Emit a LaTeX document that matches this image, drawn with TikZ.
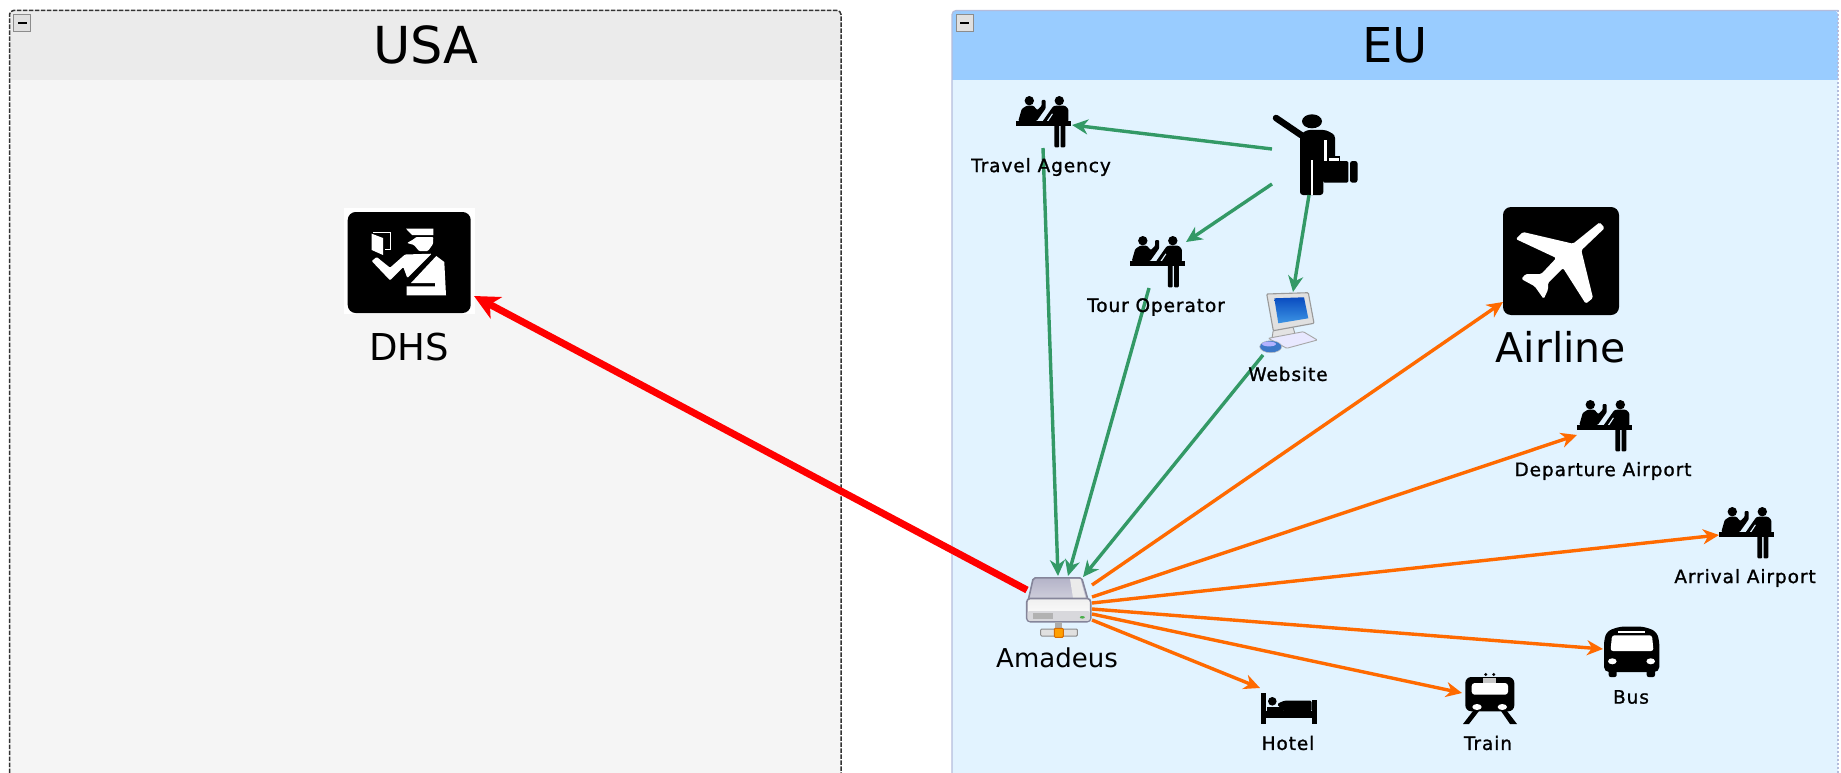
\documentclass[tikz,border=0pt]{standalone}
\usepackage{fontspec}
\setmainfont{DejaVu Sans}
\newfontfamily\smallfam[LetterSpace=5,FakeBold=1.2]{DejaVu Sans}
\usetikzlibrary{arrows.meta}
\definecolor{usahead}{HTML}{EBEBEB}
\definecolor{usabody}{HTML}{F5F5F5}
\definecolor{euhead}{HTML}{99CCFF}
\definecolor{eubody}{HTML}{E2F3FF}
\definecolor{euedge}{HTML}{B4BCDC}
\definecolor{gedge}{HTML}{339966}
\definecolor{oedge}{HTML}{FF6A00}
\definecolor{srvedge}{HTML}{85859A}
\definecolor{srvtopa}{HTML}{B4B3C8}
\definecolor{srvtopb}{HTML}{D8D8E2}
\definecolor{srvlow}{HTML}{D8D8DC}
\definecolor{scrtop}{HTML}{0A4CC0}
\definecolor{scrlow}{HTML}{3C94E4}
\definecolor{mouseblue}{HTML}{3C78C8}
\tikzset{
  iconbox/.style={inner sep=0pt,outer sep=0pt,rectangle},
  smalllabel/.style={inner sep=0pt,font=\smallfam\fontsize{18.5}{22}\selectfont,text=black},
  biglabel/.style={inner sep=0pt,text=black},
  greenarrow/.style={draw=gedge,line width=3.4pt,-{Stealth[length=16pt,width=15pt,inset=5pt]}},
  orangearrow/.style={draw=oedge,line width=3.4pt,-{Stealth[length=16pt,width=15pt,inset=5pt]}},
  redarrow/.style={draw=red,line width=7pt,-{Stealth[length=25pt,width=24pt,inset=7pt]}},
  deskicon/.pic={
    \fill[black] (0,25) rectangle (55.3,29.7);
    \fill[black] (13.3,4.7) circle[radius=4.7pt];
    \fill[black] (43.3,4.7) circle[radius=4.7pt];
    \fill[black,rounded corners=1pt] (2.3,25) -- (5.7,13) -- (10.7,9.7) -- (17.3,9.7) -- (21.3,14) -- (25.7,9.7) -- (25.7,4) -- (29.7,4) -- (29.7,12.3) -- (20.7,25) -- cycle;
    \fill[black,rounded corners=1pt] (26.5,25.5) -- (37,10.5) -- (39,9.7) -- (49,9.7) -- (52.3,13) -- (52.3,25.5) -- cycle;
    \fill[black,rounded corners=1pt] (38.3,29) rectangle (43.2,51.3);
    \fill[black,rounded corners=1pt] (44.5,29) rectangle (49.3,51.3);
    \fill[eubody] (31,24.8) -- (36,17.5) -- (36.8,18.2) -- (32.5,24.8) -- cycle;
  },
  travellericon/.pic={
    \fill[black] (40,6.3) ellipse[x radius=10pt,y radius=7pt];
    \draw[black,line width=6.5pt,line cap=round] (4,3) -- (29,20);
    \fill[black,rounded corners=3pt] (28,80) -- (28,20) -- (34.7,15) -- (54,15) -- (63,20) -- (63,47) -- (51.3,47) -- (51.3,80) -- cycle;
    \fill[white] (39,45) rectangle (40.8,80);
    \fill[white] (52,25) rectangle (54.5,46);
    \fill[black] (55.3,41) rectangle (68,46);
    \fill[white] (57,42.5) rectangle (66.5,46);
    \fill[black,rounded corners=1.5pt] (51,46) rectangle (76.3,67.7);
    \fill[black,rounded corners=2.5pt] (78,46) rectangle (85.5,67.7);
  },
  airlineicon/.pic={
    \fill[black,rounded corners=8pt] (0,0) rectangle (116,108);
    \fill[white,rounded corners=1.5pt] (96.7,15.3) -- (101.7,21) -- (78.3,43.3) -- (90,91) -- (82.7,96.7) -- (60,61) -- (45,76) -- (45,82.7) -- (40.7,92) -- (31.7,79.3) -- (18.3,72) -- (22.7,67) -- (38.3,67) -- (53.3,51) -- (12.7,32) -- (20,25) -- (70,36.7) -- cycle;
  },
  dhsicon/.pic={
    \fill[white] (0,0) rectangle (131,106);
    \fill[black,rounded corners=8pt] (3.7,4) rectangle (126.7,105);
    \fill[white] (62,20.7) -- (89.3,20.7) -- (89.3,27) -- (68,27) -- cycle;
    \fill[white,rounded corners=1pt] (72,29) -- (89.3,29) -- (89,36) -- (84,43) -- (75,43) -- (70,37) -- (63,35) -- (70,31) -- cycle;
    \fill[white] (27.7,25.7) -- (39,30) -- (39,47) -- (27.7,42) -- cycle;
    \draw[white,line width=1pt] (29,24.7) -- (46.7,24.7) -- (46.7,41) -- (41,41);
    \fill[white,rounded corners=1pt] (27.7,53) -- (32.7,49) -- (46,59.7) -- (61,46.5) -- (87.7,45.7) -- (63.3,70) -- (59.3,59) -- (46,72.3) -- cycle;
    \fill[white] (92.3,48) -- (100.3,54) -- (102,87.3) -- (62.7,87.3) -- (62.7,78.3) -- (91,78.3) -- (91,75) -- (67,75) -- cycle;
  },
  hotelicon/.pic={
    \fill[black] (0,0) rectangle (5,31);
    \fill[black] (50.7,6.7) rectangle (55.7,31);
    \fill[black] (0,18.3) rectangle (55.7,25);
    \fill[black] (11.3,8.3) circle[radius=4.3pt];
    \fill[black] (6,13.5) rectangle (22,18.3);
    \fill[black,rounded corners=1.5pt] (16,11) -- (23,7.7) -- (50.7,7.7) -- (50.7,18.3) -- (22,18.3) -- cycle;
  },
  trainicon/.pic={
    \fill[black,rounded corners=6pt] (2.3,4) rectangle (51.3,38.3);
    \fill[white,rounded corners=3pt] (8.7,10) rectangle (45,21.7);
    \fill[white] (14,34) ellipse[x radius=4.7pt,y radius=3pt];
    \fill[white] (39.3,34) ellipse[x radius=4.7pt,y radius=3pt];
    \fill[black!22] (20,5) rectangle (33.3,10);
    \fill[black] (22.7,1.5) circle[radius=1.6pt];
    \fill[black] (30.7,1.5) circle[radius=1.6pt];
    \fill[black] (10,38) -- (16,38) -- (6,51) -- (0,51) -- cycle;
    \fill[black] (38,38) -- (44,38) -- (54,51) -- (47,51) -- cycle;
  },
  busicon/.pic={
    \fill[black,rounded corners=5pt] (0,46) -- (0,14) -- (3,5) -- (16,0.5) -- (39,0.5) -- (52,5) -- (55.3,14) -- (55.3,46) -- cycle;
    \fill[black,rounded corners=2pt] (4.7,44) rectangle (12.7,51);
    \fill[black,rounded corners=2pt] (42.7,44) rectangle (51,51);
    \fill[white,rounded corners=2.5pt] (8,9.3) -- (48,9.3) -- (49.5,25) -- (6.5,25) -- cycle;
    \fill[white] (14.3,5) rectangle (41,7);
    \fill[white] (8.3,35.3) ellipse[x radius=4.3pt,y radius=3pt];
    \fill[white] (46.7,35.3) ellipse[x radius=4.3pt,y radius=3pt];
  },
  servericon/.pic={
    \shade[top color=srvtopa,bottom color=srvtopb,draw=srvedge,line width=1.6pt,rounded corners=2pt] (7.3,0.8) -- (55.7,0.8) -- (64,30) -- (0.7,30) -- cycle;
    \fill[black!8] (44,2) -- (54.5,2) -- (59.5,21) -- (47,21) -- cycle;
    \shade[top color=black!6,bottom color=white,draw=srvedge,line width=1.6pt,rounded corners=3.5pt] (0.7,21.5) rectangle (64.7,44.7);
    \fill[srvlow,rounded corners=2pt] (1.6,34) rectangle (63.8,43.8);
    \fill[black!30] (7.3,36.3) rectangle (27.3,42.3);
    \fill[green!55!black!70] (56.3,40.3) ellipse[x radius=2.5pt,y radius=1.3pt];
    \fill[black!32] (29,44.7) rectangle (35.7,53);
    \fill[black!12,draw=black!45,line width=1pt,rounded corners=1pt] (14.7,52) rectangle (51.3,59);
    \fill[orange!75!yellow,draw=orange!85!black,line width=.9pt,rounded corners=1pt] (28.3,51.3) rectangle (37.3,60.3);
  },
  computericon/.pic={
    \fill[black!11,draw=black!40,line width=.9pt,rounded corners=1pt] (13.3,38) -- (33,35) -- (35,42) -- (12,46) -- cycle;
    \fill[black!12,draw=black!40,line width=1.1pt,rounded corners=1pt] (6.7,2) -- (48.3,0.7) -- (54,31.3) -- (13.3,38.7) -- cycle;
    \shade[top color=scrtop,bottom color=scrlow] (14.3,6.3) -- (44,5.3) -- (48.3,26.3) -- (18.3,31.3) -- cycle;
    \fill[blue!9,draw=black!35,line width=.9pt,rounded corners=1pt] (8.3,46.3) -- (43.3,39.7) -- (57.3,48) -- (26.7,56.3) -- cycle;
    \fill[mouseblue,draw=black!25,line width=.5pt] (10.7,54.7) ellipse[x radius=11pt,y radius=6pt];
    \fill[white!70!blue] (9,52) ellipse[x radius=7pt,y radius=2.4pt];
  },
}
\begin{document}
\begin{tikzpicture}[x=1pt,y=-1pt]
\useasboundingbox (0,0) rectangle (1841,773);
\fill[white] (0,0) rectangle (1841,773);
% USA panel
\fill[usabody] (9.5,80) rectangle (841,773);
\fill[usahead] (9.5,80) [rounded corners=4pt] -- (9.5,10.5) -- (841,10.5) [sharp corners] -- (841,80) -- cycle;
\draw[black!80,line width=1.5pt,dash pattern=on 4.5pt off 1.5pt,rounded corners=4pt] (9.5,773) -- (9.5,10.5) -- (841,10.5) -- (841,773);
\fill[black!12,draw=black!45,line width=.8pt] (13.5,14.5) rectangle (30,31);
\fill[black] (17.5,22) rectangle (26.5,24.5);
% EU panel
\fill[eubody] (952,80) rectangle (1838,775);
\fill[euhead] (952,80) [rounded corners=4pt] -- (952,10.5) -- (1838,10.5) [sharp corners] -- (1838,80) -- cycle;
\draw[euedge,line width=1.2pt,rounded corners=4pt] (952,775) -- (952,10.5) -- (1838,10.5);
\draw[euedge,line width=2pt,dash pattern=on 2pt off 2pt] (1838,10.5) -- (1838,775);
\fill[black!12,draw=black!45,line width=.8pt] (956,14.5) rectangle (973,31);
\fill[black] (960,22) rectangle (969,24.5);
% Icon nodes
\node[iconbox,minimum width=131pt,minimum height=106pt] (dhs) at (409.5,261) {};
\node[iconbox,minimum width=55pt,minimum height=51pt] (agency) at (1043.5,121.5) {};
\node[iconbox,minimum width=86pt,minimum height=80pt] (traveller) at (1315,155) {};
\node[iconbox,minimum width=55pt,minimum height=51pt] (operator) at (1157,261.5) {};
\node[iconbox,minimum width=58pt,minimum height=61pt] (website) at (1289,322.5) {};
\node[iconbox,minimum width=65pt,minimum height=60pt] (amadeus) at (1058.5,607) {};
\node[iconbox,minimum width=116pt,minimum height=108pt] (airline) at (1561,261) {};
\node[iconbox,minimum width=55pt,minimum height=51pt] (departure) at (1604.5,425.5) {};
\node[iconbox,minimum width=55pt,minimum height=51pt] (arrival) at (1746.5,532.5) {};
\node[iconbox,minimum width=56pt,minimum height=31pt] (hotel) at (1289,708.5) {};
\node[iconbox,minimum width=54pt,minimum height=51pt] (train) at (1490,698.5) {};
\node[iconbox,minimum width=55pt,minimum height=51pt] (bus) at (1631.5,651.5) {};
\pic at (dhs.north west) {dhsicon};
\pic at (agency.north west) {deskicon};
\pic at (traveller.north west) {travellericon};
\pic at (operator.north west) {deskicon};
\pic at (website.north west) {computericon};
\pic at (amadeus.north west) {servericon};
\pic at (airline.north west) {airlineicon};
\pic at (departure.north west) {deskicon};
\pic at (arrival.north west) {deskicon};
\pic at (hotel.north west) {hotelicon};
\pic at (train.north west) {trainicon};
\pic at (bus.north west) {busicon};
% Connectors
\path[greenarrow] ([shift={(0pt,6pt)}]traveller.west) -- ([shift={(1pt,-3.5pt)}]agency.east);
\path[greenarrow] ([shift={(0pt,-29pt)}]traveller.west) -- ([shift={(1.5pt,-6pt)}]operator.north east);
\path[greenarrow] ([shift={(-6pt,0pt)}]traveller.south) -- ([shift={(4pt,0pt)}]website.north);
\path[greenarrow] ([shift={(-.5pt,-1pt)}]agency.south) -- ([shift={(-.5pt,1pt)}]amadeus.north);
\path[greenarrow] ([shift={(-8pt,-1pt)}]operator.south) -- ([shift={(9.5pt,1pt)}]amadeus.north);
\path[greenarrow] ([shift={(3pt,-2pt)}]website.south west) -- ([shift={(-8pt,0pt)}]amadeus.north east);
\path[orangearrow] ([shift={(1pt,22pt)}]amadeus.east) -- ([shift={(0pt,13pt)}]airline.south west);
\path[orangearrow] ([shift={(1pt,10pt)}]amadeus.east) -- ([shift={(0pt,16pt)}]departure.south west);
\path[orangearrow] ([shift={(1pt,4pt)}]amadeus.east) -- ([shift={(0pt,-2.5pt)}]arrival.west);
\path[orangearrow] ([shift={(1pt,-2pt)}]amadeus.east) -- ([shift={(-1pt,2.5pt)}]bus.west);
\path[orangearrow] ([shift={(1pt,-7pt)}]amadeus.east) -- ([shift={(-1pt,5.5pt)}]train.west);
\path[orangearrow] ([shift={(1pt,-13pt)}]amadeus.east) -- ([shift={(-1pt,5pt)}]hotel.north west);
\path[redarrow] ([shift={(1pt,17pt)}]amadeus.west) -- ([shift={(-1pt,18pt)}]dhs.south east);
% Labels
\node[biglabel,font=\fontsize{51}{60}\selectfont] (usatitle) at (426,45) {USA};
\node[biglabel,font=\fontsize{48}{60}\selectfont] (eutitle) at (1395,45) {EU};
\node[biglabel,font=\fontsize{37}{44}\selectfont] (dhslabel) at (409,347) {DHS};
\node[biglabel,font=\fontsize{41}{48}\selectfont] (airlinelabel) at (1561,347) {Airline};
\node[biglabel,font=\fontsize{26}{32}\selectfont] (amadeuslabel) at (1057,658) {Amadeus};
\node[smalllabel] (agencylabel) at (1041,167) {Travel Agency};
\node[smalllabel] (operatorlabel) at (1156,307) {Tour Operator};
\node[smalllabel] (websitelabel) at (1288,374) {Website};
\node[smalllabel] (departurelabel) at (1603,471) {Departure Airport};
\node[smalllabel] (arrivallabel) at (1745,578) {Arrival Airport};
\node[smalllabel] (hotellabel) at (1288,743) {Hotel};
\node[smalllabel] (trainlabel) at (1488,743) {Train};
\node[smalllabel] (buslabel) at (1631,697) {Bus};
\end{tikzpicture}
\end{document}
